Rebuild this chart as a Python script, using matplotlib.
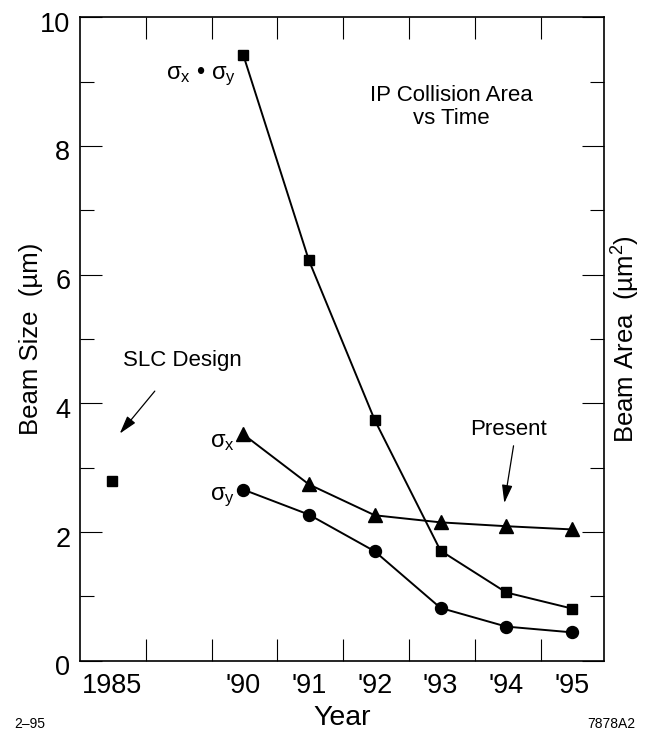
import matplotlib
matplotlib.use("Agg")
import matplotlib.pyplot as plt
import matplotlib.transforms as mtransforms
from matplotlib import font_manager
import numpy as np

plt.rcParams['font.family'] = ['Liberation Sans', 'DejaVu Sans']
plt.rcParams['mathtext.fontset'] = 'custom'
plt.rcParams['mathtext.rm'] = 'Liberation Sans'
plt.rcParams['mathtext.it'] = 'Liberation Sans'

# SLC final-focus beam sizes by run year
years = [1990, 1991, 1992, 1993, 1994, 1995]
sigma_x = [3.52, 2.74, 2.26, 2.15, 2.09, 2.04]      # um
sigma_y = [2.66, 2.27, 1.70, 0.82, 0.53, 0.44]      # um
area = [9.42, 6.22, 3.74, 1.71, 1.06, 0.81]         # um^2
design_year = 1985
design_area = 2.79

year_labels = ['1985', "'90", "'91", "'92", "'93", "'94", "'95"]


def year_pos(y):
    # the axis is compressed before 1990: 1985 sits two slots left of '90
    return y - 1990 if y >= 1990 else -2


xs = [year_pos(y) for y in years]

# side labels are set a bit condensed
installed = {f.name for f in font_manager.fontManager.ttflist}
if 'Liberation Sans Narrow' in installed:
    side_font, side_size = 'Liberation Sans Narrow', 22.5
else:
    side_font, side_size = 'Liberation Sans', 18.5

fig = plt.figure(figsize=(6.51, 7.35), dpi=100)
ax = fig.add_axes([0.1229, 0.1011, 0.8054, 0.8754])

lw = 1.4
ax.plot(xs, area, color='k', lw=lw, marker='s', ms=7.9, zorder=3)
ax.plot(xs, sigma_x, color='k', lw=lw, marker='^', ms=9.6, zorder=3)
ax.plot(xs, sigma_y, color='k', lw=lw, marker='o', ms=8.6, zorder=3)
ax.plot([year_pos(design_year)], [design_area], ls='none', color='k',
        marker='s', ms=7.9, zorder=3)

ax.set_xlim(-2.48, 5.49)
ax.set_ylim(0, 10)

# x: labels under each year, tick marks in between
ax.set_xticks([year_pos(design_year)] + xs)
ax.set_xticklabels(year_labels)
ax.set_xticks(np.arange(-1.48, 5.0, 1.0), minor=True)
ax.tick_params(axis='x', which='major', length=0, pad=9, labelsize=19.5)
ax.tick_params(axis='x', which='minor', direction='in', length=15.6,
               width=0.8, top=True, bottom=True)

ax.set_yticks(np.arange(0, 11, 2))
ax.set_yticks(np.arange(1, 10, 2), minor=True)
ax.tick_params(axis='y', which='major', direction='in', length=15.6,
               width=0.8, left=True, right=True, pad=7, labelsize=19.5)
ax.tick_params(axis='y', which='minor', direction='in', length=10.3,
               width=0.8, left=True, right=True)

# nudge the y labels down a little
offset = mtransforms.ScaledTranslation(0, -0.045, fig.dpi_scale_trans)
for lab in ax.get_yticklabels():
    lab.set_transform(lab.get_transform() + offset)

for sp in ax.spines.values():
    sp.set_linewidth(1.2)

ax.set_xlabel('Year', fontsize=20.5, va='center')
ax.xaxis.set_label_coords(0.5, -0.089)
ax.set_ylabel('Beam Size  (\u00b5m)', fontsize=side_size, family=side_font,
              va='center')
ax.yaxis.set_label_coords(-0.0935, 0.5)
ax.text(1.0415, 0.5, 'Beam Area  (\u00b5m$^2$)', transform=ax.transAxes,
        rotation=90, ha='center', va='center', fontsize=side_size,
        family=side_font, math_fontfamily='custom')

# series labels
sx = r'$\mathrm{\sigma_x}$'
sy = r'$\mathrm{\sigma_y}$'
ax.text(-0.1, 9.08, sx + ' \u2022 ' + sy, ha='right', va='center', fontsize=17)
ax.text(-0.13, 3.40, sx, ha='right', va='center', fontsize=17)
ax.text(-0.13, 2.54, sy, ha='right', va='center', fontsize=17)

ax.text(3.17, 8.61, 'IP Collision Area\nvs Time', ha='center', va='center',
        fontsize=16, linespacing=1.15)

arrow = dict(arrowstyle='-|>,head_length=0.55,head_width=0.16', lw=0.9,
             color='k', shrinkA=0, shrinkB=0, mutation_scale=20)
ax.text(-0.93, 4.66, 'SLC Design', ha='center', va='center', fontsize=16)
ax.annotate('', xy=(-1.876, 3.53), xytext=(-1.343, 4.19), arrowprops=arrow)
ax.text(4.04, 3.60, 'Present', ha='center', va='center', fontsize=16)
ax.annotate('', xy=(3.97, 2.45), xytext=(4.11, 3.34), arrowprops=arrow)

fig.text(30 / 651, 1 - 724.5 / 735, '2\u201395', ha='center', va='center', fontsize=10)
fig.text(611 / 651, 1 - 724.5 / 735, '7878A2', ha='center', va='center', fontsize=10)

fig.savefig('out.png', dpi=100)
